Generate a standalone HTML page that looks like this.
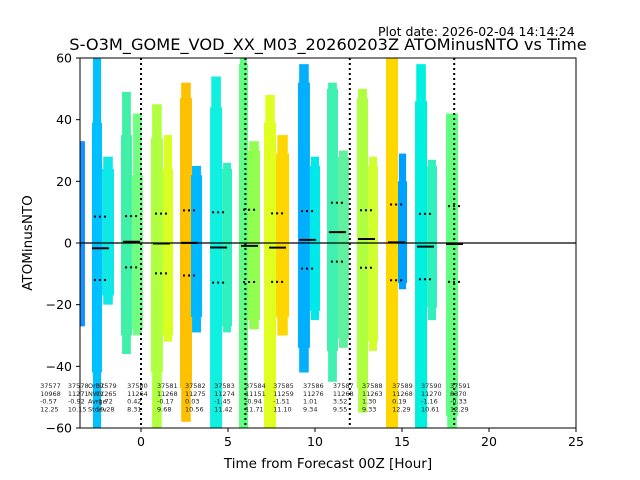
<!DOCTYPE html>
<html><head><meta charset="utf-8"><style>
html,body{margin:0;padding:0;background:#fff;}
svg{display:block;font-family:"DejaVu Sans","Liberation Sans",sans-serif;}
</style></head><body>
<svg id="chart" width="640" height="480" viewBox="0 0 640 480" xmlns="http://www.w3.org/2000/svg">
<defs><clipPath id="clip"><rect x="80" y="58" width="496" height="370"/></clipPath></defs>
<rect x="0" y="0" width="640" height="480" fill="#fff"/>
<text x="378" y="36" font-size="12.5">Plot date: 2026-02-04 14:14:24</text>
<text x="328" y="50" font-size="16.2" text-anchor="middle">S-O3M_GOME_VOD_XX_M03_20260203Z ATOMinusNTO vs Time</text>
<g id="plot" clip-path="url(#clip)"></g>
<g id="labels"></g>
<rect x="80" y="58" width="496" height="370" fill="none" stroke="#000" stroke-width="1"/>
<g id="axes"></g>
<text x="328" y="468" font-size="13.5" text-anchor="middle">Time from Forecast 00Z [Hour]</text>
<text x="0" y="0" font-size="13.5" text-anchor="middle" transform="translate(32,243) rotate(-90)">ATOMinusNTO</text>
</svg>
<script>
// data
const orbits=["37577","37578","37579","37580","37581","37582","37583","37584","37585","37586","37587","37588","37589","37590","37591"];
const counts=["10968","11271","11265","11264","11268","11275","11274","11151","11259","11276","11268","11263","11268","11270","8370"];
const means=[-0.57,-0.92,-1.72,0.42,-0.17,0.03,-1.45,-0.94,-1.51,1.01,3.52,1.30,0.19,-1.16,-0.33];
const stds=[12.25,10.15,10.28,8.31,9.68,10.56,11.42,11.71,11.10,9.34,9.55,9.33,12.29,10.61,12.29];
const orbitTimes=[-5.80,-4.20,-2.59,-0.80,0.92,2.53,4.20,5.98,7.59,9.31,11.03,12.70,14.43,16.09,17.76];
const colStart=[-4.0,-2.82,-2.24,-1.15,-0.52,0.57,1.26,2.24,2.87,3.97,4.66,5.63,6.15,7.07,7.76,9.02,9.71,10.69,11.32,12.41,13.05,14.08,14.77,15.75,16.44,17.53];
const colEnd=[-3.22,-2.24,-1.55,-0.52,0.11,1.26,1.84,2.93,3.51,4.66,5.23,6.15,6.84,7.76,8.51,9.71,10.29,11.32,11.95,13.05,13.62,14.77,15.29,16.44,17.01,18.22];
const colTop=[33,39,24,35,22,34,24,47,22,44,24,58,30,39,29,52,25,50,28,47,25,60,20,46,25,42];
const colBottom=[-27,-42,-17,-30,-28,-42,-30,-47,-24,-60,-27,-60,-25,-60,-24,-34,-22,-35,-31,-47,-32,-60,-13,-60,-21,-56];
const outTop=[33,60,28,49,42,45,35,52,25,54,26,60,33,48,35,58,28,52,30,50,28,60,29,58,27,42];
const outBottom=[-27,-60,-20,-36,-30,-60,-32,-58,-29,-60,-29,-60,-28,-60,-30,-42,-25,-45,-34,-55,-35,-60,-15,-60,-25,-60];
const colColor=["#1890ff","#00c0ff","#10e8e8","#40f0a8","#70ff80","#b0ff40","#d8ff20","#ffc000","#00b8ff","#10f0e0","#30f0c0","#60ff80","#90ff50","#e0ff20","#ffd700","#00b0ff","#00e8e8","#40f0b0","#60f0a0","#b0ff40","#d0ff30","#ffd700","#00a0ff","#00f0e0","#30f0c0","#60ff80"];
const xTicks=[0,5,10,15,20,25];
const yTicks=[-60,-40,-20,0,20,40,60];
const vLines=[0,6,12,18];

const NS="http://www.w3.org/2000/svg";
const xS=h=>141+h*17.4;
const yS=v=>243-v*3.0833;
function mk(tag,attrs,parent){const e=document.createElementNS(NS,tag);for(const k in attrs)e.setAttribute(k,attrs[k]);parent.appendChild(e);return e;}
const plot=document.getElementById('plot'),axes=document.getElementById('axes'),labels=document.getElementById('labels');

for(let i=0;i<colStart.length;i++){
  const x0=xS(colStart[i]),x1=xS(colEnd[i]),w=x1-x0;
  const o=mk('rect',{x:x0+w*0.1,y:yS(outTop[i]),width:w*0.8,height:yS(outBottom[i])-yS(outTop[i]),fill:colColor[i]},plot);
  
  
  const r=mk('rect',{x:x0,y:yS(colTop[i]),width:w,height:yS(colBottom[i])-yS(colTop[i]),fill:colColor[i]},plot);
  
  
}
mk('line',{x1:80,x2:576,y1:yS(0),y2:yS(0),stroke:'#000','stroke-width':1.2},plot);
for(const v of vLines){
  const l=mk('line',{x1:xS(v),x2:xS(v),y1:58,y2:428,stroke:'#000','stroke-width':2,'stroke-dasharray':'2,3'},plot);
  
  
}
for(let i=0;i<orbits.length;i++){
  const xa=xS(orbitTimes[i]-0.23),xb=xa+17;
  const m=mk('line',{x1:xa,x2:xb,y1:yS(means[i]),y2:yS(means[i]),stroke:'#000','stroke-width':2},plot);
  
  
  for(const s of [1,-1]){
    const d=mk('line',{x1:xa+2,x2:xb,y1:yS(means[i]+s*stds[i]),y2:yS(means[i]+s*stds[i]),stroke:'#000','stroke-width':2,'stroke-dasharray':'2,3'},plot);
    
    
  }
  const lx=xS(orbitTimes[i]);
  const t=mk('text',{x:lx,y:388,'font-size':6.5,fill:'#222'},labels);
  
  
  const lines=[orbits[i],counts[i],means[i].toFixed(2),stds[i].toFixed(2)];
  lines.forEach((s,k)=>{const ts=mk('tspan',{x:lx,dy:k?7.8:0},t);ts.textContent=s;});
}
const hdr=mk('text',{x:88,y:388,'font-size':6.5,fill:'#222'},labels);


["Orbit","NWV","Avrge","Stdev"].forEach((s,k)=>{const ts=mk('tspan',{x:88,dy:k?7.8:0},hdr);ts.textContent=s;});

for(const v of xTicks){
  mk('line',{x1:xS(v),x2:xS(v),y1:428,y2:432,stroke:'#000'},axes);
  const t=mk('text',{x:xS(v),y:446,'font-size':12.5,'text-anchor':'middle'},axes);
  
  
  t.textContent=v;
}
for(const v of yTicks){
  mk('line',{x1:76,x2:80,y1:yS(v),y2:yS(v),stroke:'#000'},axes);
  const t=mk('text',{x:72,y:yS(v)+4.5,'font-size':12.5,'text-anchor':'end'},axes);
  
  
  t.textContent=v<0?'\u2212'+(-v):v;
}
</script>
</body></html>
